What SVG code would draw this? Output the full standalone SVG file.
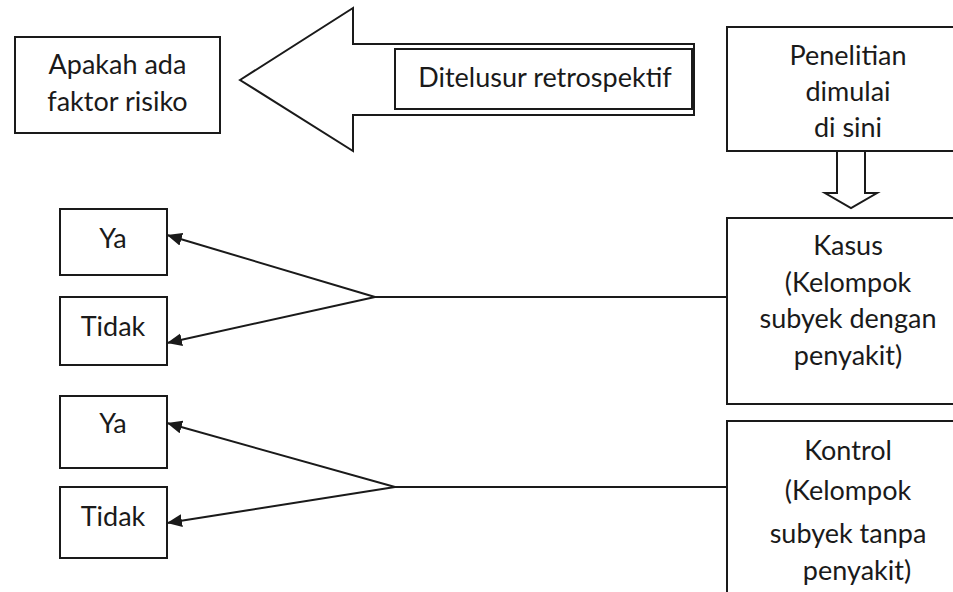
<svg xmlns="http://www.w3.org/2000/svg" width="953" height="592" viewBox="0 0 953 592">
  <style>
    .box { fill: #ffffff; stroke: #1a1a1a; stroke-width: 2; }
    .shape { fill: #ffffff; stroke: #1a1a1a; stroke-width: 2; stroke-linejoin: miter; }
    .lbl { font-family: Lato, "Liberation Sans", sans-serif; font-size: 27px; fill: #1a1a1a; text-anchor: middle; }
    .wire { fill: none; stroke: #1a1a1a; stroke-width: 2; }
  </style>
  <defs>
    <marker id="head" markerUnits="userSpaceOnUse" markerWidth="16" markerHeight="14" refX="15" refY="6.5" orient="auto">
      <path d="M0,0 L15,6.5 L0,13 Z" fill="#1a1a1a"/>
    </marker>
  </defs>

  <rect width="953" height="592" fill="#ffffff"/>

  <!-- risk factor question -->
  <g id="node-faktor">
    <rect class="box" x="15" y="37" width="205" height="96"/>
    <text class="lbl" x="117.5" y="74">Apakah ada</text>
    <text class="lbl" x="117.5" y="111">faktor risiko</text>
  </g>

  <!-- large backward arrow with label -->
  <g id="node-retrospektif">
    <polygon class="shape" points="240,80 353,8 353,44 694,44 694,115 353,115 353,151"/>
    <rect class="box" x="395" y="49" width="297" height="60"/>
    <text class="lbl" x="545" y="87">Ditelusur retrospektif</text>
  </g>

  <!-- study starting point -->
  <g id="node-mulai">
    <rect class="box" x="727" y="27" width="240" height="124"/>
    <text class="lbl" x="848" y="65">Penelitian</text>
    <text class="lbl" x="848" y="101">dimulai</text>
    <text class="lbl" x="848" y="137">di sini</text>
  </g>

  <!-- hollow down arrow -->
  <g id="node-panah-bawah">
    <polygon class="shape" points="837,151 865,151 865,193 877,193 851,208 825,193 837,193"/>
  </g>

  <!-- case group -->
  <g id="node-kasus">
    <rect class="box" x="727" y="218" width="240" height="186"/>
    <text class="lbl" x="848" y="255">Kasus</text>
    <text class="lbl" x="848" y="292">(Kelompok</text>
    <text class="lbl" x="848" y="328">subyek dengan</text>
    <text class="lbl" x="848" y="365">penyakit)</text>
  </g>

  <!-- control group -->
  <g id="node-kontrol">
    <rect class="box" x="727" y="421" width="240" height="190"/>
    <text class="lbl" x="848" y="460">Kontrol</text>
    <text class="lbl" x="848" y="500">(Kelompok</text>
    <text class="lbl" x="848" y="543">subyek tanpa</text>
    <text class="lbl" x="857" y="580">penyakit)</text>
  </g>

  <!-- exposure outcomes -->
  <g id="node-ya-1">
    <rect class="box" x="60" y="209" width="107" height="66"/>
    <text class="lbl" x="113" y="248">Ya</text>
  </g>
  <g id="node-tidak-1">
    <rect class="box" x="60" y="297" width="107" height="68"/>
    <text class="lbl" x="113" y="336">Tidak</text>
  </g>
  <g id="node-ya-2">
    <rect class="box" x="60" y="396" width="107" height="72"/>
    <text class="lbl" x="113" y="433">Ya</text>
  </g>
  <g id="node-tidak-2">
    <rect class="box" x="60" y="487" width="107" height="71"/>
    <text class="lbl" x="113" y="526">Tidak</text>
  </g>

  <!-- connectors -->
  <g id="connectors">
    <line class="wire" x1="727" y1="297" x2="375" y2="297"/>
    <line class="wire" x1="375" y1="297" x2="167" y2="235" marker-end="url(#head)"/>
    <line class="wire" x1="375" y1="297" x2="167" y2="343" marker-end="url(#head)"/>
    <line class="wire" x1="727" y1="487" x2="395" y2="487"/>
    <line class="wire" x1="395" y1="487" x2="167" y2="423" marker-end="url(#head)"/>
    <line class="wire" x1="395" y1="487" x2="167" y2="523" marker-end="url(#head)"/>
  </g>
</svg>
